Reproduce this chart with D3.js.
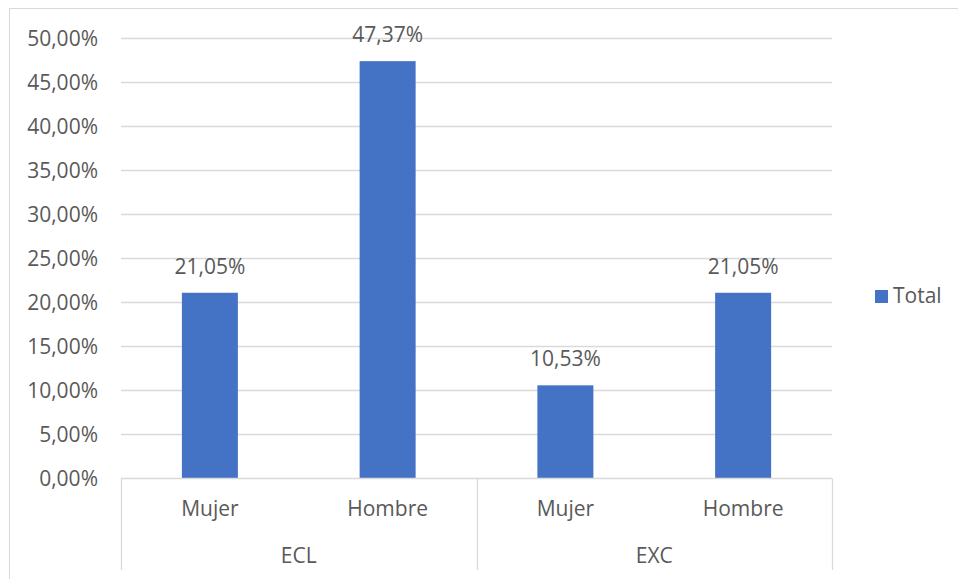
<!DOCTYPE html>
<html>
<head>
<meta charset="utf-8">
<script src="https://cdn.jsdelivr.net/npm/d3@7"></script>
<style>
  body { margin: 0; background: #fff; }
  text { font-family: "Open Sans", sans-serif; fill: #595959; }
</style>
</head>
<body>
<div id="chart"></div>
<script>
// Données
const groups = ["ECL", "EXC"];
const subCategories = ["Mujer", "Hombre"];
const values = [21.05, 47.37, 10.53, 21.05];
const yTicks = [0, 5, 10, 15, 20, 25, 30, 35, 40, 45, 50];
const seriesName = "Total";

const width = 958, height = 579;
const margin = { left: 121, right: 126, top: 38, bottom: 101 };
const fontSize = 21;
const barColor = "#4472c4";
const gridColor = "#d9d9d9";

const svg = d3.select("#chart").append("svg")
    .attr("width", width)
    .attr("height", height);

// Cadre du graphique
svg.append("rect")
    .attr("x", 9.5).attr("y", 8.5)
    .attr("width", width).attr("height", height)
    .attr("fill", "none")
    .attr("stroke", gridColor);

// Liste des barres (groupe + sous-catégorie)
const bars = [];
groups.forEach((g, gi) => {
    subCategories.forEach((s, si) => {
        bars.push({ key: g + "-" + s, group: g, sub: s, value: values[gi * subCategories.length + si] });
    });
});

const x = d3.scaleBand()
    .domain(bars.map(d => d.key))
    .range([margin.left, width - margin.right])
    .paddingInner(0.685)
    .paddingOuter(0.3425);

const y = d3.scaleLinear()
    .domain([0, 50])
    .range([height - margin.bottom, margin.top]);

// Grille horizontale
svg.append("g")
    .selectAll("line")
    .data(yTicks.slice(1))
    .enter()
    .append("line")
    .attr("x1", margin.left)
    .attr("x2", width - margin.right)
    .attr("y1", d => Math.round(y(d)) + 0.5)
    .attr("y2", d => Math.round(y(d)) + 0.5)
    .attr("stroke", gridColor)
    .attr("stroke-width", 1.3);

// Étiquettes de l'axe Y
svg.append("g")
    .selectAll("text")
    .data(yTicks)
    .enter()
    .append("text")
    .attr("x", 98)
    .attr("y", d => y(d))
    .attr("dy", "0.36em")
    .attr("text-anchor", "end")
    .style("font-size", fontSize + "px")
    .text(d => d3.format(".2f")(d).replace(".", ",") + "%");

// Barres
svg.append("g")
    .selectAll("rect")
    .data(bars)
    .enter()
    .append("rect")
    .attr("x", d => x(d.key))
    .attr("y", d => y(d.value))
    .attr("width", x.bandwidth())
    .attr("height", d => y(0) - y(d.value))
    .attr("fill", barColor);

// Étiquettes de données
svg.append("g")
    .selectAll("text")
    .data(bars)
    .enter()
    .append("text")
    .attr("x", d => x(d.key) + x.bandwidth() / 2)
    .attr("y", d => y(d.value) - 19)
    .attr("text-anchor", "middle")
    .style("font-size", fontSize + "px")
    .text(d => d3.format(".2f")(d.value).replace(".", ",") + "%");

// Axe des catégories (à plusieurs niveaux)
const axisY = Math.round(y(0)) + 0.5;
const axisBottom = 570;
const step = x.step();
const axis = svg.append("g");

axis.append("line")
    .attr("x1", margin.left).attr("x2", width - margin.right)
    .attr("y1", axisY).attr("y2", axisY)
    .attr("stroke", gridColor).attr("stroke-width", 1.3);

// Séparateurs verticaux entre les groupes
const sepX = d3.range(groups.length + 1).map(i => margin.left + i * step * subCategories.length);
axis.selectAll("line.sep")
    .data(sepX)
    .enter()
    .append("line")
    .attr("class", "sep")
    .attr("x1", d => Math.round(d) + 0.5)
    .attr("x2", d => Math.round(d) + 0.5)
    .attr("y1", axisY)
    .attr("y2", axisBottom)
    .attr("stroke", gridColor)
    .attr("stroke-width", 1.3);

axis.selectAll("text.sub")
    .data(bars)
    .enter()
    .append("text")
    .attr("class", "sub")
    .attr("x", d => x(d.key) + x.bandwidth() / 2)
    .attr("y", 516)
    .attr("text-anchor", "middle")
    .style("font-size", fontSize + "px")
    .text(d => d.sub);

axis.selectAll("text.grp")
    .data(groups)
    .enter()
    .append("text")
    .attr("class", "grp")
    .attr("x", (d, i) => (sepX[i] + sepX[i + 1]) / 2)
    .attr("y", 562.5)
    .attr("text-anchor", "middle")
    .style("font-size", fontSize + "px")
    .text(d => d);

// Légende
const legend = svg.append("g");
legend.append("rect")
    .attr("x", 875).attr("y", 290)
    .attr("width", 13).attr("height", 13)
    .attr("fill", barColor);
legend.append("text")
    .attr("x", 893).attr("y", 302.5)
    .style("font-size", fontSize + "px")
    .text(seriesName);
</script>
</body>
</html>
